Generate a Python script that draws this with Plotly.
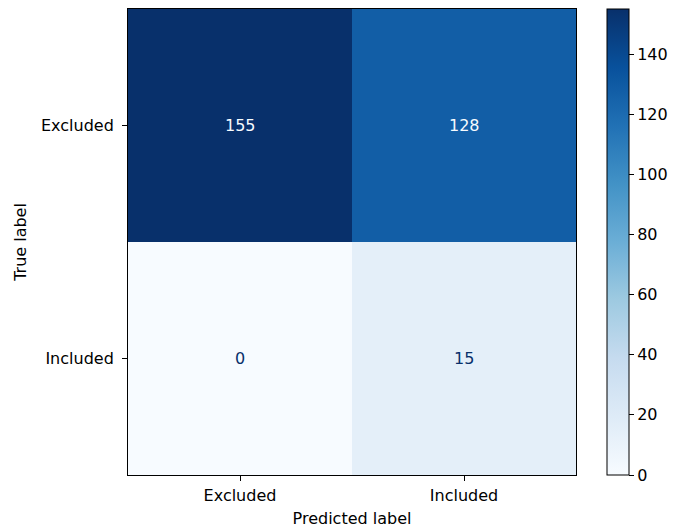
import plotly.graph_objects as go

# Confusion matrix data
classes = ["Excluded", "Included"]
counts = [[155, 128],
          [0, 15]]
cbar_ticks = [0, 20, 40, 60, 80, 100, 120, 140]

# matplotlib "Blues" colormap stops
blues = ["#f7fbff", "#deebf7", "#c6dbef", "#9ecae1", "#6baed6",
         "#4292c6", "#2171b5", "#08519c", "#08306b"]
scale = [[i / (len(blues) - 1), c] for i, c in enumerate(blues)]

flat = [v for row in counts for v in row]
vmin, vmax = min(flat), max(flat)
thresh = (vmin + vmax) / 2

font = "DejaVu Sans"
fs = 16

# Pixel layout of the figure
W, H = 673, 531
ml, mr, mt, mb = 128, 0, 9, 56
plot_w = 448
paper_w = W - ml - mr
cbar_left = 607

fig = go.Figure(go.Heatmap(
    z=counts, x=classes, y=classes,
    colorscale=scale, zmin=vmin, zmax=vmax,
    hoverinfo="skip",
    colorbar=dict(
        x=(cbar_left - ml) / paper_w, xanchor="left", xref="paper",
        y=0.5, yanchor="middle", len=1.0, lenmode="fraction",
        xpad=0, ypad=0,
        thickness=22, thicknessmode="pixels",
        outlinewidth=1, outlinecolor="black",
        tickvals=cbar_ticks, ticks="outside", ticklen=5, tickwidth=1,
        tickcolor="black",
        tickfont=dict(family=font, size=fs, color="black"),
    ),
))

for i, row in enumerate(counts):
    for j, v in enumerate(row):
        fig.add_annotation(
            x=classes[j], y=classes[i], text=str(v), showarrow=False,
            font=dict(family=font, size=fs,
                      color=blues[0] if v > thresh else blues[-1]),
        )

fig.update_xaxes(
    domain=[0, plot_w / paper_w],
    title=dict(text="Predicted label", font=dict(family=font, size=fs, color="black"), standoff=8),
    tickfont=dict(family=font, size=fs, color="black"),
    ticks="outside", ticklen=5, tickcolor="black", ticklabelstandoff=1,
    showline=True, linecolor="black", linewidth=1, mirror=True,
    showgrid=False, zeroline=False,
)
fig.update_yaxes(
    title=dict(text="True label", font=dict(family=font, size=fs, color="black"), standoff=10),
    tickfont=dict(family=font, size=fs, color="black"),
    ticks="outside", ticklen=5, tickcolor="black", ticklabelstandoff=5,
    showline=True, linecolor="black", linewidth=1, mirror=True,
    showgrid=False, zeroline=False,
    autorange="reversed",
)

fig.update_layout(
    width=W, height=H,
    margin=dict(l=ml, r=mr, t=mt, b=mb, pad=0, autoexpand=False),
    paper_bgcolor="white", plot_bgcolor="white",
    font=dict(family=font, size=fs, color="black"),
)

fig.write_html("out.html")
